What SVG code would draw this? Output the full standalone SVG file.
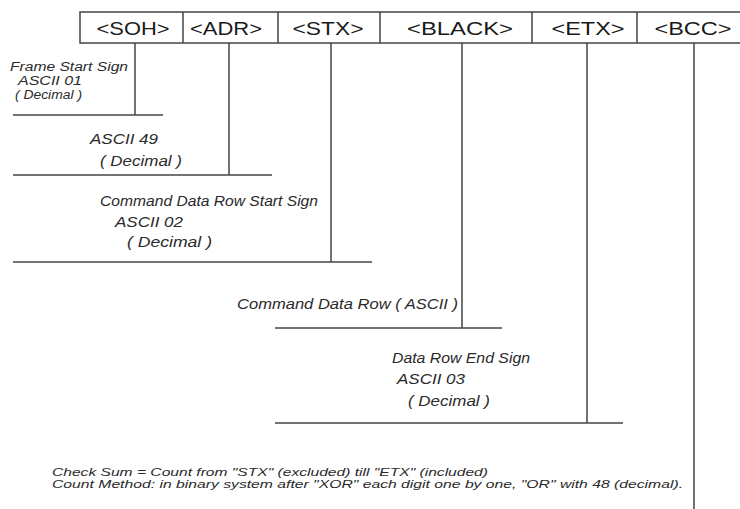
<svg xmlns="http://www.w3.org/2000/svg" width="740" height="509" viewBox="0 0 740 509">
<style>
.ln{stroke:#444;stroke-width:1.5;fill:none}
.hd{font-family:"Liberation Sans",Arial,sans-serif;font-size:18px;fill:#1a1a1a;text-anchor:middle}
.an{font-family:"Liberation Sans",Arial,sans-serif;font-size:14px;font-style:italic;fill:#2a2a2a}
.sm{font-size:12.5px}
.ft{font-family:"Liberation Sans",Arial,sans-serif;font-size:11px;font-style:italic;fill:#2a2a2a}
</style>
<rect width="740" height="509" fill="#ffffff"/>
<g id="header">
<rect class="ln" x="80" y="12" width="670" height="31"/>
<line class="ln" x1="183" y1="12" x2="183" y2="43"/>
<line class="ln" x1="278" y1="12" x2="278" y2="43"/>
<line class="ln" x1="380" y1="12" x2="380" y2="43"/>
<line class="ln" x1="532" y1="12" x2="532" y2="43"/>
<line class="ln" x1="637" y1="12" x2="637" y2="43"/>
</g>
<g id="soh"><text class="hd" x="133" y="35" textLength="73" lengthAdjust="spacingAndGlyphs">&lt;SOH&gt;</text></g>
<g id="adr"><text class="hd" x="226" y="35" textLength="72" lengthAdjust="spacingAndGlyphs">&lt;ADR&gt;</text></g>
<g id="stx"><text class="hd" x="328" y="35" textLength="71" lengthAdjust="spacingAndGlyphs">&lt;STX&gt;</text></g>
<g id="black"><text class="hd" x="460" y="35" textLength="106" lengthAdjust="spacingAndGlyphs">&lt;BLACK&gt;</text></g>
<g id="etx"><text class="hd" x="588" y="35" textLength="73" lengthAdjust="spacingAndGlyphs">&lt;ETX&gt;</text></g>
<g id="bcc"><text class="hd" x="693" y="35" textLength="77" lengthAdjust="spacingAndGlyphs">&lt;BCC&gt;</text></g>
<g id="connectors">
<polyline class="ln" points="135,43 135,115"/>
<line class="ln" x1="13" y1="115" x2="163" y2="115"/>
<polyline class="ln" points="229,43 229,175"/>
<line class="ln" x1="13" y1="175" x2="272" y2="175"/>
<polyline class="ln" points="331,43 331,262"/>
<line class="ln" x1="13" y1="262" x2="372" y2="262"/>
<polyline class="ln" points="462,43 462,328"/>
<line class="ln" x1="275" y1="328" x2="502" y2="328"/>
<polyline class="ln" points="587,43 587,423"/>
<line class="ln" x1="275" y1="423" x2="623" y2="423"/>
<polyline class="ln" points="694,43 694,509"/>
</g>
<g id="label-soh">
<text class="an sm" x="10" y="71" textLength="118" lengthAdjust="spacingAndGlyphs">Frame Start Sign</text>
<text class="an sm" x="18" y="85" textLength="64" lengthAdjust="spacingAndGlyphs">ASCII 01</text>
<text class="an sm" x="15" y="99" textLength="67" lengthAdjust="spacingAndGlyphs">( Decimal )</text>
</g>
<g id="label-adr">
<text class="an" x="90" y="144" textLength="68" lengthAdjust="spacingAndGlyphs">ASCII 49</text>
<text class="an" x="100" y="166" textLength="82" lengthAdjust="spacingAndGlyphs">( Decimal )</text>
</g>
<g id="label-stx">
<text class="an" x="100" y="206" textLength="218" lengthAdjust="spacingAndGlyphs">Command Data Row Start Sign</text>
<text class="an" x="115" y="227" textLength="68" lengthAdjust="spacingAndGlyphs">ASCII 02</text>
<text class="an" x="127" y="247" textLength="85" lengthAdjust="spacingAndGlyphs">( Decimal )</text>
</g>
<g id="label-black">
<text class="an" x="237" y="309" textLength="221" lengthAdjust="spacingAndGlyphs">Command Data Row ( ASCII )</text>
</g>
<g id="label-etx">
<text class="an" x="392" y="363" textLength="138" lengthAdjust="spacingAndGlyphs">Data Row End Sign</text>
<text class="an" x="397" y="384" textLength="68" lengthAdjust="spacingAndGlyphs">ASCII 03</text>
<text class="an" x="408" y="406" textLength="82" lengthAdjust="spacingAndGlyphs">( Decimal )</text>
</g>
<g id="label-bcc">
<text class="ft" x="52" y="475.5" textLength="436" lengthAdjust="spacingAndGlyphs">Check Sum = Count from "STX" (excluded) till "ETX" (included)</text>
<text class="ft" x="52" y="488" textLength="631" lengthAdjust="spacingAndGlyphs">Count Method: in binary system after "XOR" each digit one by one, "OR" with 48 (decimal).</text>
</g>
</svg>
